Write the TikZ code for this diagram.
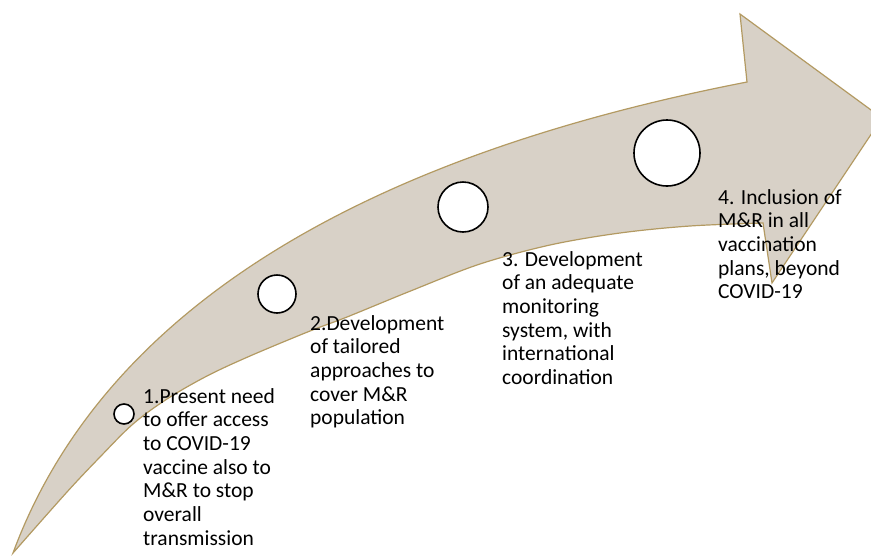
\documentclass[tikz,border=0pt]{standalone}
\usepackage{fontspec}
\setmainfont{Carlito}
\definecolor{arrowfill}{HTML}{D8D1C7}
\definecolor{arrowedge}{HTML}{B39A62}
\tikzset{
  stepdot/.style={circle, draw=black, line width=1.6pt, fill=white, inner sep=0pt},
  steptext/.style={anchor=base west, inner sep=0pt, font=\fontsize{21.5}{23.7}\selectfont, text=black},
}
\begin{document}
\begin{tikzpicture}[x=1pt,y=-1pt]
\useasboundingbox (0,0) rectangle (871,555);
\begin{scope}
  \clip (0,0) rectangle (871,555);
  \draw[fill=arrowfill, draw=arrowedge, line width=1.2pt, line join=miter]
    (13,553) .. controls (94,334) and (320,165) .. (747,82) -- (740,14) -- (882,118) -- (772,283) -- (763,223)
    -- plot[smooth, tension=0.55] coordinates {(763,223) (690,226) (620,233) (550,245) (480,264) (413,290) (347,317) (310,331) (250,356) (207,376) (167,399) (133,424) (100,457) (67,492) (13,553)} -- cycle;
\end{scope}

\node[stepdot, minimum size=20pt] (c1) at (124,414) {};
\node[stepdot, minimum size=38pt] (c2) at (277,294) {};
\node[stepdot, minimum size=50pt] (c3) at (463,207) {};
\node[stepdot, minimum size=66pt] (c4) at (667,153) {};

\node[steptext] (t1) at (143,403) {\begin{tabular}[t]{@{}l@{}}1.Present need\\to offer access\\to COVID-19\\vaccine also to\\M\&R to stop\\overall\\transmission\end{tabular}};
\node[steptext] (t2) at (310,330) {\begin{tabular}[t]{@{}l@{}}2.Development\\of tailored\\approaches to\\cover M\&R\\population\end{tabular}};
\node[steptext] (t3) at (502,266) {\begin{tabular}[t]{@{}l@{}}3. Development\\of an adequate\\monitoring\\system, with\\international\\coordination\end{tabular}};
\node[steptext] (t4) at (718,204) {\begin{tabular}[t]{@{}l@{}}4. Inclusion of\\M\&R in all\\vaccination\\plans, beyond\\COVID-19\end{tabular}};
\end{tikzpicture}
\end{document}
